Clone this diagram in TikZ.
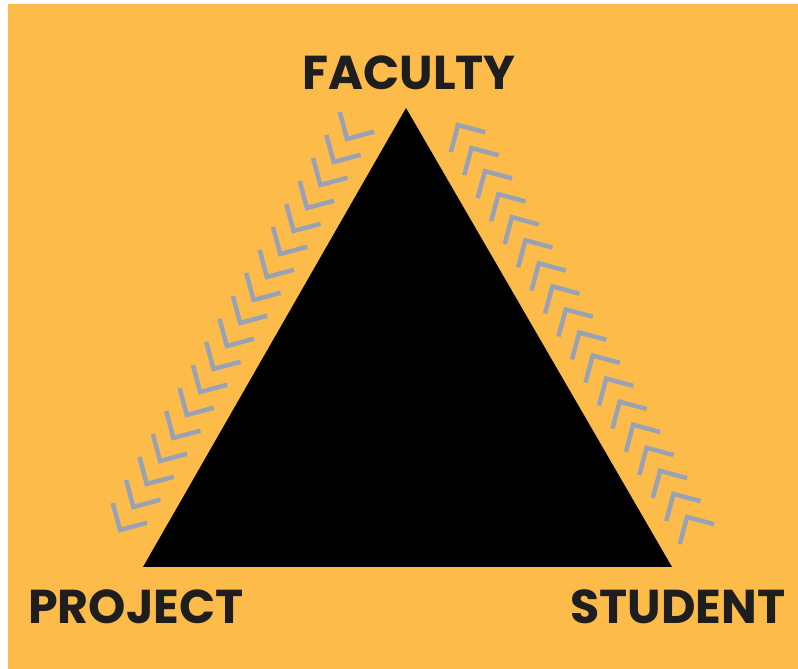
\documentclass[tikz,border=0pt]{standalone}
\usepackage{fontspec}
\setmainfont{Poppins}
\usetikzlibrary{calc}
\definecolor{bgorange}{RGB}{253,187,74}
\definecolor{chevgrey}{RGB}{152,162,180}
\definecolor{labelblack}{RGB}{30,30,30}
\begin{document}
\begin{tikzpicture}[x=1pt, y=1pt, font=\fontsize{47.5}{47.5}\selectfont\bfseries]
    \tikzstyle{label_style} = [inner sep=0, text=labelblack]
    \tikzstyle{chevron} = [chevgrey, line width=4.5, line join=miter]

    \useasboundingbox (0,0) rectangle (798,669);
    \fill[white] (0,0) rectangle (798,669);
    \fill[bgorange] (8,0) rectangle (798,665);

    % corners of the triangle
    \coordinate (cF) at (406,561);
    \coordinate (cP) at (143,102);
    \coordinate (cS) at (672,102);
    \fill[black] (cF) -- (cP) -- (cS) -- cycle;

    % first and last chevron on each side
    \coordinate (pl0) at (120,139);
    \coordinate (pl1) at (347,530);
    \coordinate (pr0) at (458,544);
    \coordinate (pr1) at (687,152);

    \foreach \i in {0,...,17} {
        \coordinate (cl) at ($(pl0)!\i/17!(pl1)$);
        \draw[chevron] (cl) +(105:28) -- (cl) -- +(15:28);
        \coordinate (cr) at ($(pr0)!\i/17!(pr1)$);
        \draw[chevron] (cr) +(255:28) -- (cr) -- +(345:28);
    }

    \node[label_style] (nFaculty) at (409,596) {FACULTY};
    \node[label_style] (nProject) at (136,62) {PROJECT};
    \node[label_style] (nStudent) at (678,62) {STUDENT};
\end{tikzpicture}
\end{document}
